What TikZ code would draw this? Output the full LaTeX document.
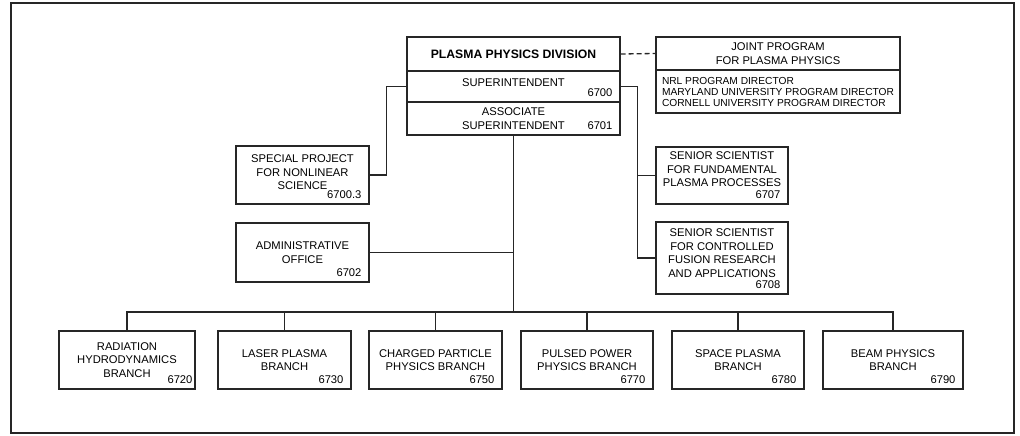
\documentclass[tikz,border=0pt]{standalone}
\usepackage{fontspec}
\setmainfont{Liberation Sans}
\usetikzlibrary{positioning}

\newcommand\chartfont{\fontsize{11.2}{13.5}\selectfont}

\begin{document}
\begin{tikzpicture}[
    x=1pt, y=-1pt,
    unit/.style={draw=black!85, line width=1.3pt, align=center,
        inner sep=0pt, font=\chartfont},
    branch/.style={unit, minimum width=133, minimum height=58},
    code/.style={anchor=south east, inner xsep=8pt, inner ysep=5.5pt,
        font=\chartfont},
    link/.style={draw=black!85, line width=1.3pt},
    frame/.style={draw=black!85, line width=2.4pt}
]
    \useasboundingbox (0,0) rectangle (1020,436);
    \draw[frame] (11,3) rectangle (1014,433);

    % division office, three rows
    \node[unit, minimum width=213, minimum height=34,
        font=\bfseries\fontsize{12.2}{14}\selectfont] (div) at (513.5,54)
        {PLASMA PHYSICS DIVISION};
    \node[unit, minimum width=213, minimum height=31, text depth=7pt] (sup)
        at (513.5,86.5) {SUPERINTENDENT};
    \node[code] (sup-no) at (sup.south east) {6700};
    \node[unit, minimum width=213, minimum height=33] (assoc) at (513.5,118.5)
        {ASSOCIATE\\SUPERINTENDENT};
    \node[code] (assoc-no) at (assoc.south east) {6701};

    % joint program
    \node[unit, minimum width=244, minimum height=33] (joint) at (778,53.5)
        {JOINT PROGRAM\\FOR PLASMA PHYSICS};
    \node[unit, minimum width=244, minimum height=43, align=left,
        font=\fontsize{10.2}{11}\selectfont] (directors) at (778,91.5)
        {NRL PROGRAM DIRECTOR\\MARYLAND UNIVERSITY PROGRAM DIRECTOR\\CORNELL UNIVERSITY PROGRAM DIRECTOR};

    % staff offices
    \node[unit, minimum width=133, minimum height=58] (nonlinear) at (302.5,175) {};
    \node[font=\chartfont, align=center, inner sep=0pt] (nonlinear-txt)
        at ([yshift=2.5pt]nonlinear.center)
        {SPECIAL PROJECT\\FOR NONLINEAR\\SCIENCE};
    \node[code] (nonlinear-no) at (nonlinear.south east) {6700.3};
    \node[unit, minimum width=133, minimum height=59] (admin) at (302.5,252.5)
        {ADMINISTRATIVE\\OFFICE};
    \node[code] (admin-no) at (admin.south east) {6702};

    \node[unit, minimum width=132, minimum height=57] (fund) at (722,175.5) {};
    \node[font=\chartfont, align=center, inner sep=0pt] (fund-txt)
        at ([yshift=6pt]fund.center)
        {SENIOR SCIENTIST\\FOR FUNDAMENTAL\\PLASMA PROCESSES};
    \node[code] (fund-no) at (fund.south east) {6707};
    \node[unit, minimum width=132, minimum height=72] (ctrl) at (722,258) {};
    \node[font=\chartfont, align=center, inner sep=0pt] (ctrl-txt)
        at ([yshift=5pt]ctrl.center)
        {SENIOR SCIENTIST\\FOR CONTROLLED\\FUSION RESEARCH\\AND APPLICATIONS};
    \node[code] (ctrl-no) at (ctrl.south east) {6708};

    % branches
    \node[branch, minimum width=136] (rad) at (127,360)
        {RADIATION\\HYDRODYNAMICS\\BRANCH};
    \node[code, inner xsep=3pt] (rad-no) at (rad.south east) {6720};
    \node[branch] (laser) at (284.5,360) {LASER PLASMA\\BRANCH};
    \node[code] (laser-no) at (laser.south east) {6730};
    \node[branch] (charged) at (435.5,360) {CHARGED PARTICLE\\PHYSICS BRANCH};
    \node[code] (charged-no) at (charged.south east) {6750};
    \node[branch, minimum width=132] (pulsed) at (587,360)
        {PULSED POWER\\PHYSICS BRANCH};
    \node[code] (pulsed-no) at (pulsed.south east) {6770};
    \node[branch, minimum width=132] (space) at (738,360) {SPACE PLASMA\\BRANCH};
    \node[code] (space-no) at (space.south east) {6780};
    \node[branch, minimum width=140] (beam) at (893,360) {BEAM PHYSICS\\BRANCH};
    \node[code] (beam-no) at (beam.south east) {6790};

    % connections
    \coordinate (rise) at ([xshift=17pt]sup.east);
    \coordinate (drop) at ([xshift=-20pt]sup.west);
    \coordinate (bus) at (513.5,312);

    \draw[link, dash pattern=on 5pt off 3pt] (div.east) -- (joint.west);
    \draw[link] (sup.east) -- (rise) |- (ctrl.west);
    \draw[link] (fund.west) -- (fund.west -| rise);
    \draw[link] (sup.west) -- (drop) |- (nonlinear.east);
    \draw[link] (assoc.south) -- (bus);
    \draw[link] (admin.east) -- (admin.east -| bus);
    \draw[link] (rad.north) |- (bus) -| (beam.north);
    \foreach \b in {laser,charged,pulsed,space}
        \draw[link] (\b.north) -- (\b.north |- bus);
\end{tikzpicture}
\end{document}
